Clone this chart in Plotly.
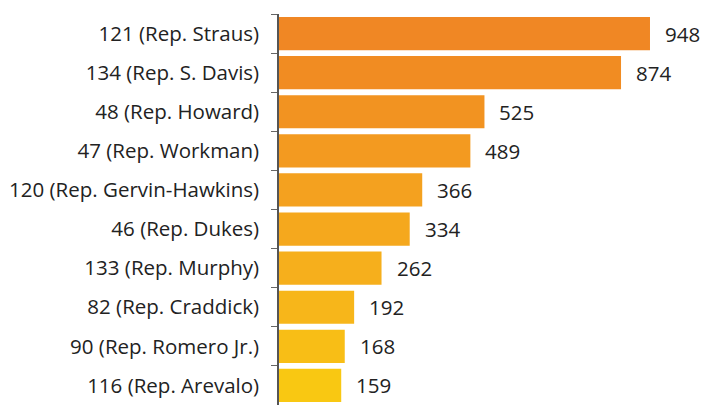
import plotly.graph_objects as go

districts = [
    "121 (Rep. Straus)",
    "134 (Rep. S. Davis)",
    "48 (Rep. Howard)",
    "47 (Rep. Workman)",
    "120 (Rep. Gervin-Hawkins)",
    "46 (Rep. Dukes)",
    "133 (Rep. Murphy)",
    "82 (Rep. Craddick)",
    "90 (Rep. Romero Jr.)",
    "116 (Rep. Arevalo)",
]
values = [948, 874, 525, 489, 366, 334, 262, 192, 168, 159]
colors = ["#F08724", "#F18C22", "#F29321", "#F39A20", "#F4A11F",
          "#F5A81D", "#F6AF1C", "#F7B61A", "#F8BE16", "#F9C812"]

FONT = "Open Sans"
FS = 20.5

fig = go.Figure(go.Bar(
    x=values, y=districts, orientation="h",
    marker=dict(color=colors, line=dict(width=0)),
    hoverinfo="skip",
))

for d, v in zip(districts, values):
    fig.add_annotation(x=v, y=d, text=str(v), showarrow=False,
                       xanchor="left", xshift=13,
                       font=dict(family=FONT, size=FS, color="#222222"))

fig.update_layout(
    width=704, height=405,
    margin=dict(l=279, r=0, t=14, b=0),
    plot_bgcolor="white", paper_bgcolor="white",
    bargap=0.15,
    showlegend=False,
    font=dict(family=FONT, size=FS, color="#222222"),
)
fig.update_xaxes(range=[0, 1086], visible=False, fixedrange=True, automargin=False)
fig.update_yaxes(
    type="category", autorange="reversed", automargin=False,
    tickson="boundaries", ticks="outside", ticklen=6, tickcolor="#666666",
    showline=True, linecolor="#555555", linewidth=1.5,
    showgrid=False, ticklabelstandoff=14,
    tickfont=dict(family=FONT, size=FS, color="#222222"),
)

fig.write_html("out.html", config={"displayModeBar": False},
               post_script="document.body.style.margin='0';document.body.style.overflow='hidden';")
